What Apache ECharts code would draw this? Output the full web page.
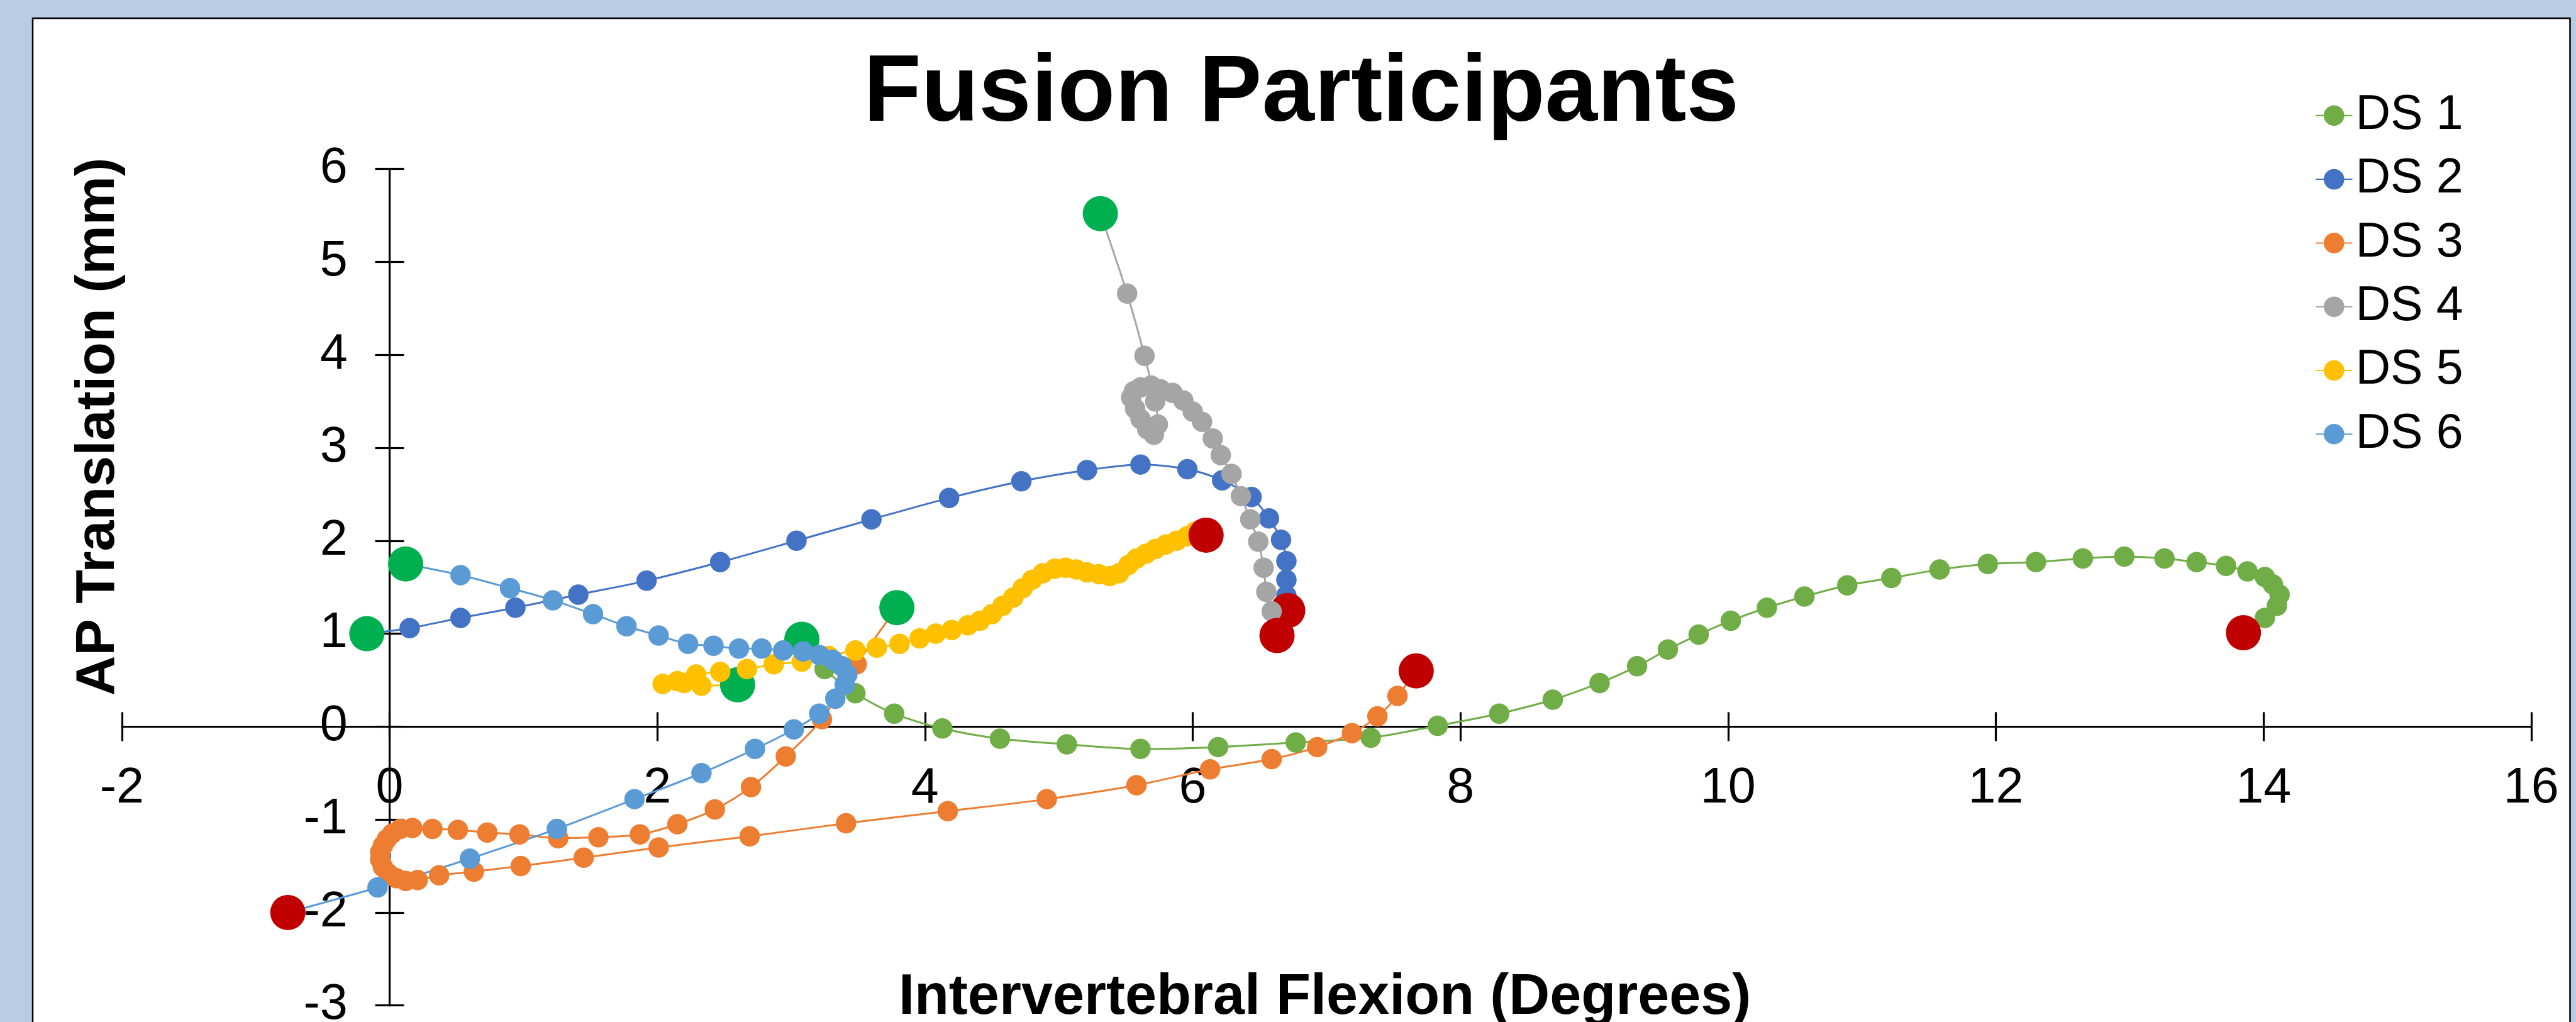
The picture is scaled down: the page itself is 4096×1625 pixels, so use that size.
<!DOCTYPE html>
<html>
<head>
<meta charset="utf-8">
<title>Fusion Participants</title>
<script src="https://cdn.jsdelivr.net/npm/echarts@6.0.0/dist/echarts.min.js"></script>
<style>
  html, body { margin: 0; padding: 0; background: #b8cce4; }
  #chart { width: 4096px; height: 1625px; }
</style>
</head>
<body>
<div id="chart"></div>
<script>
// series names and colours
const names = ['DS 1', 'DS 2', 'DS 3', 'DS 4', 'DS 5', 'DS 6']
const colors = ['#70ad47', '#4472c4', '#ed7d31', '#a5a5a5', '#ffc000', '#5b9bd5']

// first (green) and last (red) point of each series
const startX = [3.08, -0.17, 3.79, 5.31, 2.60, 0.12]
const startY = [0.94, 1.00, 1.28, 5.52, 0.45, 1.75]
const endX = [13.85, 6.71, 7.67, 6.63, 6.10, -0.76]
const endY = [1.01, 1.25, 0.60, 0.98, 2.06, -2.00]

// points in between
const ds1X = [3.25, 3.48, 3.77, 4.13, 4.56, 5.06, 5.61, 6.19, 6.77, 7.33, 7.83, 8.29, 8.69, 9.04, 9.32, 9.55, 9.78, 10.02, 10.29, 10.57, 10.89, 11.22, 11.58, 11.94, 12.30, 12.65, 12.96, 13.26, 13.50, 13.72, 13.88, 14.01, 14.07, 14.12, 14.10, 14.01]
const ds1Y = [0.62, 0.36, 0.14, -0.02, -0.13, -0.19, -0.24, -0.22, -0.17, -0.12, 0.01, 0.14, 0.29, 0.47, 0.65, 0.83, 0.99, 1.14, 1.28, 1.40, 1.52, 1.60, 1.69, 1.75, 1.77, 1.81, 1.83, 1.81, 1.77, 1.73, 1.67, 1.61, 1.53, 1.42, 1.30, 1.17]

const ds2X = [0.15, 0.53, 0.94, 1.41, 1.92, 2.47, 3.04, 3.60, 4.18, 4.72, 5.21, 5.61, 5.96, 6.22, 6.44, 6.57, 6.66, 6.70, 6.70, 6.70]
const ds2Y = [1.06, 1.17, 1.28, 1.42, 1.57, 1.77, 2.00, 2.23, 2.46, 2.64, 2.76, 2.82, 2.77, 2.65, 2.47, 2.24, 2.01, 1.78, 1.58, 1.41]

const ds3X = [3.49, 3.23, 2.96, 2.70, 2.43, 2.15, 1.87, 1.56, 1.26, 0.97, 0.73, 0.51, 0.32, 0.17, 0.08, 0.02, -0.02, -0.05, -0.07, -0.07, -0.05, -0.01, 0.05, 0.12, 0.21, 0.37, 0.63, 0.98, 1.45, 2.01, 2.69, 3.41, 4.17, 4.91, 5.58, 6.13, 6.59, 6.93, 7.19, 7.38, 7.53]
const ds3Y = [0.67, 0.08, -0.32, -0.65, -0.89, -1.05, -1.16, -1.19, -1.20, -1.16, -1.14, -1.11, -1.10, -1.09, -1.10, -1.15, -1.21, -1.28, -1.35, -1.43, -1.51, -1.58, -1.63, -1.66, -1.65, -1.60, -1.56, -1.50, -1.41, -1.30, -1.18, -1.04, -0.91, -0.78, -0.63, -0.46, -0.35, -0.22, -0.07, 0.11, 0.33]

const ds4X = [5.51, 5.64, 5.72, 5.74, 5.71, 5.66, 5.61, 5.57, 5.54, 5.56, 5.61, 5.69, 5.76, 5.85, 5.93, 6.00, 6.07, 6.15, 6.21, 6.29, 6.36, 6.43, 6.49, 6.53, 6.55, 6.59]
const ds4Y = [4.66, 3.99, 3.50, 3.25, 3.14, 3.20, 3.31, 3.42, 3.54, 3.61, 3.65, 3.67, 3.63, 3.59, 3.51, 3.39, 3.28, 3.10, 2.92, 2.72, 2.48, 2.23, 1.99, 1.71, 1.45, 1.24]

const ds5X = [2.33, 2.20, 2.04, 2.15, 2.29, 2.47, 2.67, 2.87, 3.08, 3.28, 3.48, 3.64, 3.81, 3.96, 4.08, 4.20, 4.32, 4.41, 4.50, 4.58, 4.66, 4.73, 4.80, 4.88, 4.97, 5.05, 5.13, 5.21, 5.30, 5.38, 5.45, 5.52, 5.58, 5.65, 5.72, 5.80, 5.88, 5.96, 6.02]
const ds5Y = [0.44, 0.47, 0.46, 0.49, 0.56, 0.59, 0.62, 0.67, 0.70, 0.76, 0.82, 0.85, 0.89, 0.95, 1.00, 1.04, 1.09, 1.14, 1.21, 1.30, 1.39, 1.49, 1.58, 1.65, 1.70, 1.71, 1.69, 1.66, 1.64, 1.62, 1.65, 1.74, 1.81, 1.86, 1.91, 1.96, 2.00, 2.05, 2.10]

const ds6X = [0.53, 0.90, 1.22, 1.52, 1.77, 2.01, 2.23, 2.42, 2.61, 2.78, 2.94, 3.09, 3.21, 3.31, 3.38, 3.42, 3.40, 3.33, 3.21, 3.02, 2.73, 2.33, 1.83, 1.25, 0.60, -0.09]
const ds6Y = [1.63, 1.49, 1.36, 1.21, 1.08, 0.98, 0.89, 0.87, 0.84, 0.84, 0.82, 0.81, 0.77, 0.72, 0.65, 0.56, 0.45, 0.30, 0.14, -0.03, -0.24, -0.50, -0.78, -1.10, -1.42, -1.73]

const xTicks = [-2, 16, 2]
const yTicks = [-3, 6, 1]

const allX = [ds1X, ds2X, ds3X, ds4X, ds5X, ds6X]
const allY = [ds1Y, ds2Y, ds3Y, ds4Y, ds5Y, ds6Y]

const font = 'Liberation Sans, Arial, sans-serif'

function buildData(i) {
  let data = [{value: [startX[i], startY[i]], symbolSize: 56, itemStyle: {color: '#00b050'}}]
  for (let k = 0; k < allX[i].length; k++) {
    data.push([allX[i][k], allY[i][k]])
  }
  data.push({value: [endX[i], endY[i]], symbolSize: 56, itemStyle: {color: '#c00000'}})
  return data
}

let series = []
for (let i = 0; i < names.length; i++) {
  series.push({
    name: names[i],
    type: 'line',
    xAxisIndex: 0,
    yAxisIndex: 0,
    data: buildData(i),
    smooth: 0.3,
    symbol: 'circle',
    symbolSize: 32.5,
    showSymbol: true,
    clip: false,
    lineStyle: {width: 3, color: colors[i]},
    itemStyle: {color: colors[i]},
    emphasis: {disabled: true}
  })
}

const tickLine = {color: '#000', width: 3.2}

// grid edges, the labels are measured from them (v6 keeps them at the grid edge)
const gridLeft = 193.8, gridRight = 71.2, gridTop = 268.7, gridBottom = 26.3

let chart = echarts.init(document.getElementById('chart'))
chart.setOption({
  animation: false,
  backgroundColor: '#b8cce4',
  grid: {left: gridLeft, right: gridRight, top: gridTop, bottom: gridBottom, outerBoundsMode: 'none'},
  graphic: [
    {
      type: 'rect', z: -10, silent: true,
      shape: {x: 52, y: 29, width: 4034.5, height: 1700},
      style: {fill: '#fff', stroke: '#000', lineWidth: 2.5}
    },
    {
      type: 'text', silent: true, x: 2069, y: 151,
      style: {text: 'Fusion Participants', font: 'bold 150px ' + font, fill: '#000', align: 'center', verticalAlign: 'middle'}
    },
    {
      type: 'text', silent: true, x: 157, y: 678.5, rotation: Math.PI / 2,
      style: {text: 'AP Translation (mm)', font: 'bold 88px ' + font, fill: '#000', align: 'center', verticalAlign: 'middle'}
    },
    {
      type: 'text', silent: true, x: 2106.6, y: 1587.3,
      style: {text: 'Intervertebral Flexion (Degrees)', font: 'bold 90px ' + font, fill: '#000', align: 'center', verticalAlign: 'middle'}
    }
  ],
  legend: {
    data: names,
    orient: 'vertical',
    left: 3676,
    top: 138.8,
    itemWidth: 58.5,
    itemHeight: 40.8,
    itemGap: 21.3,
    textStyle: {fontSize: 77, lineHeight: 80, color: '#000', fontFamily: font}
  },
  xAxis: [
    {
      type: 'value', min: xTicks[0], max: xTicks[1], interval: xTicks[2],
      axisLine: {onZero: true, onZeroAxisIndex: 0, lineStyle: tickLine},
      axisTick: {length: 23, lineStyle: tickLine},
      axisLabel: {fontSize: 79, margin: -384, color: '#000', fontFamily: font},
      splitLine: {show: false}
    },
    {
      // second axis only draws the upper half of the crossing ticks
      type: 'value', position: 'top', min: xTicks[0], max: xTicks[1], interval: xTicks[2],
      axisLine: {show: false, onZero: true, onZeroAxisIndex: 0},
      axisTick: {show: true, length: 23, lineStyle: tickLine},
      axisLabel: {show: false},
      splitLine: {show: false}
    }
  ],
  yAxis: [
    {
      type: 'value', min: yTicks[0], max: yTicks[1], interval: yTicks[2],
      axisLine: {onZero: true, onZeroAxisIndex: 0, lineStyle: tickLine},
      axisTick: {length: 23, lineStyle: tickLine},
      axisLabel: {fontSize: 79, margin: -359, color: '#000', fontFamily: font},
      splitLine: {show: false}
    },
    {
      type: 'value', position: 'right', min: yTicks[0], max: yTicks[1], interval: yTicks[2],
      axisLine: {show: false, onZero: true, onZeroAxisIndex: 0},
      axisTick: {show: true, length: 23, lineStyle: tickLine},
      axisLabel: {show: false},
      splitLine: {show: false}
    }
  ],
  series: series
})
</script>
</body>
</html>
